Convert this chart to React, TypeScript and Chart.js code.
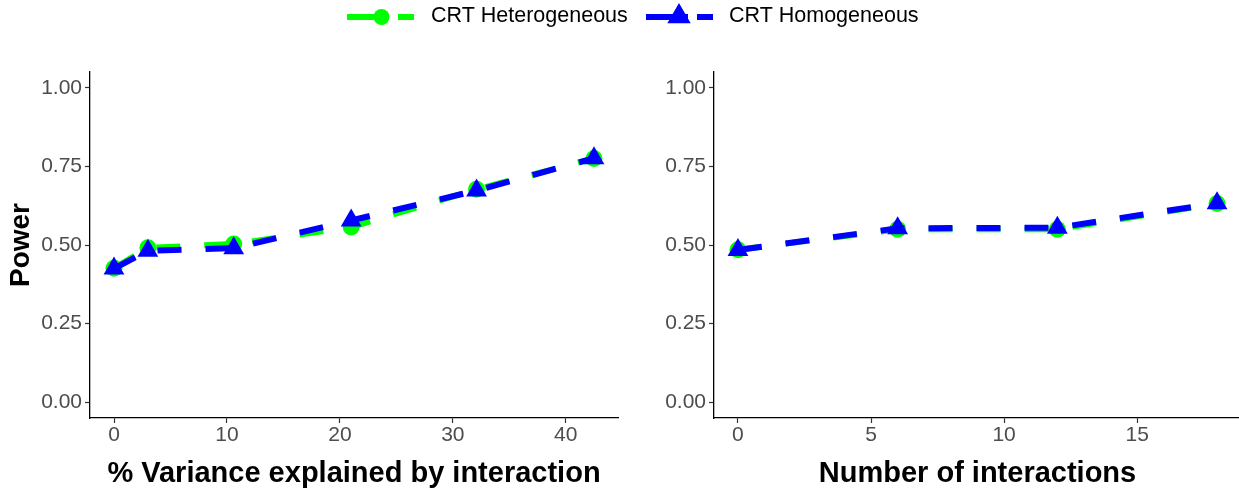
import React, { useEffect, useRef } from "react";
import { Chart, registerables } from "chart.js";

Chart.register(...registerables);

// ---- data ----
const seriesNames = ["CRT Heterogeneous", "CRT Homogeneous"];
const varianceX = [0, 3, 10.6, 21, 32.1, 42.5];
const varianceHet = [0.426, 0.491, 0.503, 0.557, 0.677, 0.775];
const varianceHom = [0.425, 0.482, 0.49, 0.578, 0.673, 0.776];
const interX = [0, 6, 12, 18];
const interHet = [0.485, 0.55, 0.55, 0.632];
const interHom = [0.484, 0.553, 0.555, 0.633];
const yTicks = [0, 0.25, 0.5, 0.75, 1];
const varianceTicks = [0, 10, 20, 30, 40];
const interTicks = [0, 5, 10, 15];
const xTitles = ["% Variance explained by interaction", "Number of interactions"];
const yTitle = "Power";

const GREEN = "#00ff00";
const BLUE = "#0000ff";
const FONT = "'Liberation Sans', Arial, Helvetica, sans-serif";

function makeDatasets(xs: number[], het: number[], hom: number[]) {
  return [
    {
      label: seriesNames[0],
      data: xs.map((x, i) => ({ x, y: het[i] })),
      borderColor: GREEN,
      backgroundColor: GREEN,
      borderWidth: 6,
      borderDash: [24, 24],
      pointStyle: "circle",
      pointRadius: 8.5,
      pointBorderWidth: 0,
      pointBackgroundColor: GREEN,
      tension: 0,
      order: 2,
    },
    {
      label: seriesNames[1],
      data: xs.map((x, i) => ({ x, y: hom[i] })),
      borderColor: BLUE,
      backgroundColor: BLUE,
      borderWidth: 6,
      borderDash: [24, 24],
      pointStyle: "triangle",
      pointRadius: 12,
      pointBorderWidth: 0,
      pointBackgroundColor: BLUE,
      tension: 0,
      order: 1,
    },
  ];
}

function makeConfig(opts: {
  xs: number[];
  het: number[];
  hom: number[];
  xTicks: number[];
  xmin: number;
  xmax: number;
  xTitle: string;
  showYTitle: boolean;
  yAxisWidth: number;
  padding: any;
  plugins: any[];
}) {
  return {
    type: "line" as const,
    data: { datasets: makeDatasets(opts.xs, opts.het, opts.hom) as any },
    options: {
      animation: false,
      responsive: false,
      maintainAspectRatio: false,
      layout: { padding: opts.padding },
      plugins: { legend: { display: false }, tooltip: { enabled: false } },
      scales: {
        x: {
          type: "linear",
          min: opts.xmin,
          max: opts.xmax,
          afterBuildTicks: (s: any) => {
            s.ticks = opts.xTicks.map((v) => ({ value: v }));
          },
          afterFit: (s: any) => {
            s.height = 71;
            s.paddingLeft = 0;
            s.paddingRight = 0;
          },
          ticks: {
            color: "#4d4d4d",
            font: { family: FONT, size: 21 },
            padding: 0,
            maxRotation: 0,
            autoSkip: false,
            callback: (v: any) => String(v),
          },
          grid: {
            display: true,
            drawOnChartArea: false,
            drawTicks: true,
            tickLength: 5,
            tickColor: "#333333",
            tickWidth: 1.2,
          },
          border: { display: true, color: "#000000", width: 1.3 },
          title: {
            display: true,
            text: opts.xTitle,
            color: "#000000",
            font: { family: FONT, size: 29, weight: "bold", lineHeight: 1 },
            padding: { top: 0, bottom: 1 },
          },
        },
        y: {
          type: "linear",
          min: -0.05,
          max: 1.05,
          afterBuildTicks: (s: any) => {
            s.ticks = yTicks.map((v) => ({ value: v }));
          },
          afterFit: (s: any) => {
            s.width = opts.yAxisWidth;
            s.paddingTop = 0;
            s.paddingBottom = 0;
          },
          ticks: {
            color: "#4d4d4d",
            font: { family: FONT, size: 21 },
            padding: 3,
            autoSkip: false,
            callback: (v: any) => Number(v).toFixed(2),
          },
          grid: {
            display: true,
            drawOnChartArea: false,
            drawTicks: true,
            tickLength: 5,
            tickColor: "#333333",
            tickWidth: 1.2,
          },
          border: { display: true, color: "#000000", width: 1.3 },
          title: {
            display: opts.showYTitle,
            text: yTitle,
            color: "#000000",
            font: { family: FONT, size: 28, weight: "bold", lineHeight: 1 },
            padding: { top: 7.5, bottom: 0 },
          },
        },
      },
    },
    plugins: opts.plugins,
  };
}

const legendPlugin = {
  id: "customLegend",
  afterDraw(chart: any) {
    const ctx = chart.ctx as CanvasRenderingContext2D;
    ctx.save();
    const y = 17;
    ctx.lineWidth = 6;
    ctx.lineCap = "butt";
    const seg = (x0: number, x1: number, color: string) => {
      ctx.strokeStyle = color;
      ctx.beginPath();
      ctx.moveTo(x0, y);
      ctx.lineTo(x1, y);
      ctx.stroke();
    };
    // Heterogeneous key
    seg(347, 388, GREEN);
    seg(398, 414, GREEN);
    ctx.fillStyle = GREEN;
    ctx.beginPath();
    ctx.arc(381.5, y, 8, 0, Math.PI * 2);
    ctx.fill();
    // Homogeneous key
    seg(646, 688, BLUE);
    seg(697, 713, BLUE);
    ctx.fillStyle = BLUE;
    const r = 13.5;
    const cx = 679;
    const cy = 16.5;
    ctx.beginPath();
    for (let k = 0; k < 3; k++) {
      const a = (k * 2 * Math.PI) / 3;
      const px = cx + Math.sin(a) * r;
      const py = cy - Math.cos(a) * r;
      if (k === 0) ctx.moveTo(px, py);
      else ctx.lineTo(px, py);
    }
    ctx.closePath();
    ctx.fill();
    // texts
    ctx.fillStyle = "#000000";
    ctx.font = `21.5px ${FONT}`;
    ctx.textBaseline = "middle";
    ctx.textAlign = "left";
    ctx.fillText(seriesNames[0], 431, 16);
    ctx.fillText(seriesNames[1], 729, 16);
    ctx.restore();
  },
};

export default function App() {
  const leftRef = useRef<HTMLCanvasElement | null>(null);
  const rightRef = useRef<HTMLCanvasElement | null>(null);

  useEffect(() => {
    document.body.style.margin = "0";
    const left = new Chart(
      leftRef.current as HTMLCanvasElement,
      makeConfig({
        xs: varianceX,
        het: varianceHet,
        hom: varianceHom,
        xTicks: varianceTicks,
        xmin: -2.125,
        xmax: 44.625,
        xTitle: xTitles[0],
        showYTitle: true,
        yAxisWidth: 90,
        padding: { left: 0, right: 621, top: 72, bottom: 0 },
        plugins: [legendPlugin],
      }) as any
    );
    const right = new Chart(
      rightRef.current as HTMLCanvasElement,
      makeConfig({
        xs: interX,
        het: interHet,
        hom: interHom,
        xTicks: interTicks,
        xmin: -0.9,
        xmax: 18.9,
        xTitle: xTitles[1],
        showYTitle: false,
        yAxisWidth: 94,
        padding: { left: 0, right: 4, top: 72, bottom: 0 },
        plugins: [],
      }) as any
    );
    return () => {
      left.destroy();
      right.destroy();
    };
  }, []);

  return (
    <div
      style={{
        position: "relative",
        width: 1239,
        height: 489,
        overflow: "hidden",
        background: "#ffffff",
      }}
    >
      <canvas
        ref={leftRef}
        width={1239}
        height={489}
        style={{ position: "absolute", left: 0, top: 0, width: 1239, height: 489 }}
      />
      <canvas
        ref={rightRef}
        width={633}
        height={489}
        style={{ position: "absolute", left: 620, top: 0, width: 633, height: 489 }}
      />
    </div>
  );
}
